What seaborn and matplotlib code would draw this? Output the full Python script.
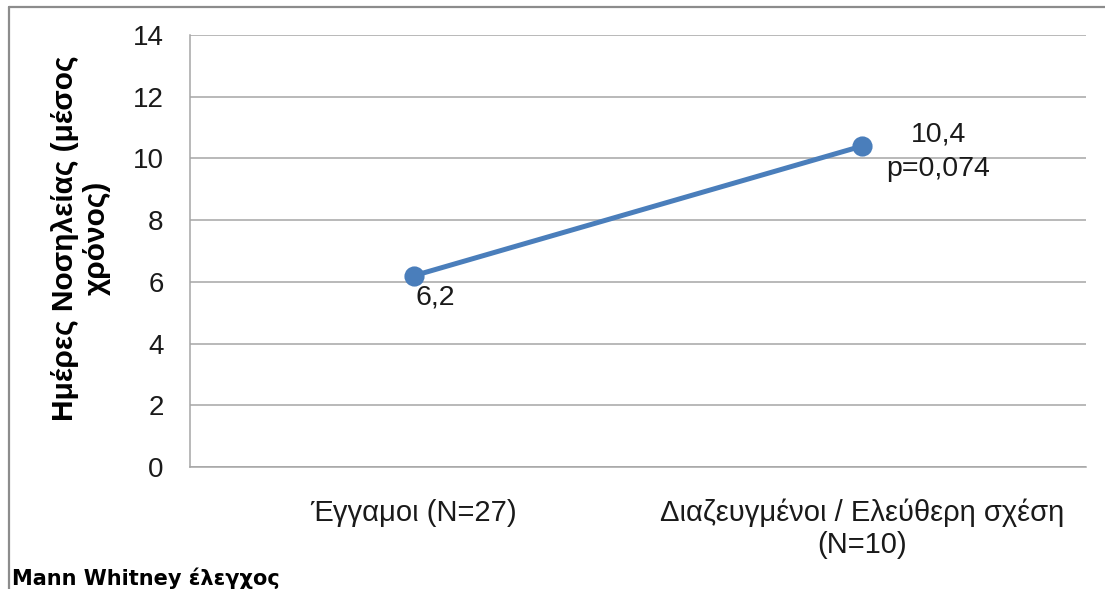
import matplotlib
matplotlib.use("Agg")
import matplotlib.pyplot as plt
import seaborn as sns
import pandas as pd
from matplotlib.lines import Line2D

# Mean days of hospitalisation by marital status
categories = ["Έγγαμοι (N=27)", "Διαζευγμένοι / Ελεύθερη σχέση\n(N=10)"]
mean_days = [6.2, 10.4]
value_labels = ["6,2", "10,4\np=0,074"]
y_ticks = [0, 2, 4, 6, 8, 10, 12, 14]

sns.set_theme(style="white")
plt.rcParams["font.family"] = ["Liberation Sans", "DejaVu Sans"]

df = pd.DataFrame({"group": categories, "days": mean_days})

fig = plt.figure(figsize=(11.05, 5.89), dpi=100)
ax = fig.add_axes([190 / 1105, 1 - 467 / 589, (1086 - 190) / 1105, (467 - 35) / 589])

line_color = "#4A7EBB"
grid_color = "#A6A6A6"
text_color = "#1a1a1a"

sns.pointplot(data=df, x="group", y="days", ax=ax, color=line_color,
              markers="o", linestyles="-", errorbar=None)
for ln in ax.lines:
    ln.set_linewidth(3.6)
    ln.set_markersize(12.5)
for coll in ax.collections:
    coll.set_sizes([156])

ax.set_ylim(0, 14)
ax.set_yticks(y_ticks)
ax.set_yticklabels([str(t) for t in y_ticks])
ax.set_xlim(-0.5, len(categories) - 0.5)

# category labels sit between boundary tick marks
ax.set_xticks([i - 0.5 for i in range(len(categories) + 1)])
ax.set_xticklabels([""] * (len(categories) + 1))
ax.set_xticks(range(len(categories)), minor=True)
ax.set_xticklabels(categories, minor=True, fontsize=21, linespacing=1.15)
ax.tick_params(axis="x", which="minor", length=0, pad=23)
ax.tick_params(axis="x", which="major", length=6.5, width=1, color=grid_color, direction="out")
ax.tick_params(axis="y", length=6, width=1, color=grid_color, direction="out", pad=13, labelsize=20)
for lab in ax.get_yticklabels():
    lab.set_color(text_color)
for lab in ax.get_xticklabels(minor=True):
    lab.set_color(text_color)

ax.yaxis.grid(True, color=grid_color, linewidth=1.1)
ax.set_axisbelow(True)
for side in ["top", "right"]:
    ax.spines[side].set_visible(False)
for side in ["left", "bottom"]:
    ax.spines[side].set_color(grid_color)
    ax.spines[side].set_linewidth(1.1)

ax.set_xlabel("")
ax.set_ylabel("Ημέρες Νοσηλείας (μέσος\nχρόνος)", fontsize=21.5, fontweight="bold",
              linespacing=1.2, color="black")
ax.yaxis.set_label_coords(-0.088, 0.53)

# value labels next to each mean
offsets = [(15, -16), (55, -4)]
for i, (val, txt) in enumerate(zip(mean_days, value_labels)):
    ax.annotate(txt, xy=(i, val), xytext=offsets[i], textcoords="offset points",
                ha="center", va="center", fontsize=20.5, color=text_color,
                multialignment="center", linespacing=1.4)

# note on the statistical test
fig.text(12 / 1105, 1 - 578 / 589, "Mann Whitney έλεγχος", fontsize=15,
         fontweight="bold", ha="left", va="center", color="black",
         family=["DejaVu Sans"])

# outer chart frame (left and top edges)
frame_color = "#8C8C8C"
fig.add_artist(Line2D([9 / 1105, 9 / 1105], [0, 1 - 7 / 589], transform=fig.transFigure,
                      color=frame_color, linewidth=1.6))
fig.add_artist(Line2D([9 / 1105, 1], [1 - 7 / 589, 1 - 7 / 589], transform=fig.transFigure,
                      color=frame_color, linewidth=1.6))

fig.savefig("out.png", dpi=100)
